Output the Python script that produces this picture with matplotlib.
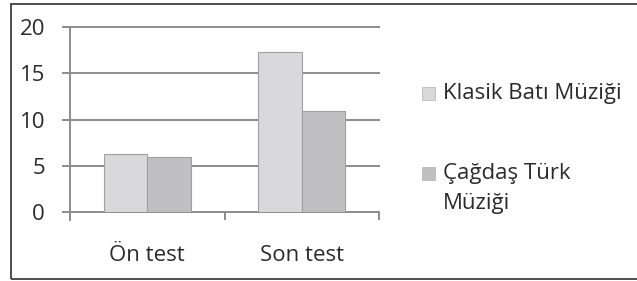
import matplotlib.pyplot as plt
import numpy as np
from matplotlib.patches import Rectangle

# Data
categories = ['Ön test', 'Son test']
series_names = ['Klasik Batı Müziği', 'Çağdaş Türk\nMüziği']
klasik = [6.3, 17.3]
cagdas = [6.0, 10.9]
y_ticks = [0, 5, 10, 15, 20]

colors = ['#d9d9db', '#c0c0c2']
edge = '#a0a0a0'
grid_c = '#8c8c8c'
text_c = '#2b2b2b'

plt.rcParams['font.family'] = ['Open Sans', 'DejaVu Sans']

fig = plt.figure(figsize=(6.37, 2.81), dpi=100)
ax = fig.add_axes([70 / 637, 1 - 212 / 281, 309 / 637, 185 / 281])

x = np.arange(len(categories))
w = 0.282
ax.bar(x - w / 2, klasik, w, color=colors[0], edgecolor=edge, linewidth=0.8, zorder=3)
ax.bar(x + w / 2, cagdas, w, color=colors[1], edgecolor=edge, linewidth=0.8, zorder=3)

ax.set_xlim(-0.5, 1.5)
ax.set_ylim(0, 20)

# gridlines
for t in y_ticks:
    ax.axhline(t, color=grid_c, linewidth=1.4, zorder=1, clip_on=False)

# x ticks at category boundaries
ax.set_xticks([-0.5, 0.5, 1.5])
ax.set_xticklabels([])
ax.tick_params(axis='x', length=6, width=1.4, color=grid_c, direction='out')
ax.set_yticks(y_ticks)
ax.set_yticklabels([str(t) for t in y_ticks])
ax.tick_params(axis='y', length=6, width=1.4, color=grid_c, direction='out', pad=12,
               labelsize=16, labelcolor=text_c)
for i, c in enumerate(categories):
    ax.text(i, -4.7, c, ha='center', va='center', fontsize=16, color=text_c)

for s in ['top', 'right', 'bottom']:
    ax.spines[s].set_visible(False)
ax.spines['left'].set_color(grid_c)
ax.spines['left'].set_linewidth(1.4)
ax.spines['left'].set_bounds(-0.9, 20)
ax.spines['left'].set_position(('data', -0.5))

# legend drawn manually
for i, (name, col) in enumerate(zip(series_names, colors)):
    ytop = [87, 167][i]
    fig.patches.append(Rectangle((422 / 637, 1 - (ytop + 13) / 281), 13 / 637, 13 / 281,
                                 transform=fig.transFigure, facecolor=col,
                                 edgecolor='#b0b0b0', linewidth=0.5))
    for j, line in enumerate(name.split('\n')):
        fig.text(443 / 637, 1 - (ytop + 7 + 29 * j) / 281, line, ha='left', va='center',
                 fontsize=16, color=text_c)

# outer frame
fig.patches.append(Rectangle((10.5 / 637, 1 - 278.5 / 281), 640 / 637, 275 / 281,
                             transform=fig.transFigure, fill=False,
                             edgecolor='#404040', linewidth=1.3))

fig.savefig('out.png', dpi=100)
